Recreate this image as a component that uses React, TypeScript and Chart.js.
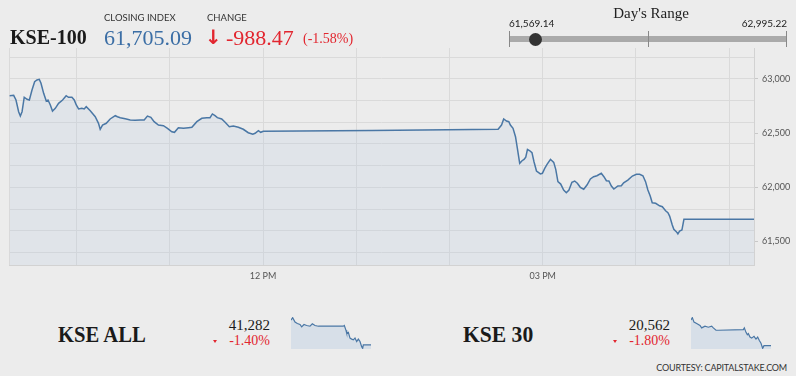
import React, { useEffect, useRef } from 'react';
import { Chart, registerables } from 'chart.js';

Chart.register(...registerables);

// ---------- data ----------
const closingIndex = 61705.09;
const changeValue = -988.47;
const changePct = -1.58;
const dayLow = 61569.14;
const dayHigh = 62995.22;

// minutes since midnight
const kse100Times = [
  556.9, 559.5, 561.0, 562.7, 563.8, 564.9, 566.3, 568.1, 569.6, 571.3,
  573.0, 574.5, 576.0, 577.1, 578.8, 580.5, 581.6, 583.1, 584.5, 586.3,
  588.4, 591.0, 593.3, 594.8, 597.0, 598.5, 599.8, 601.3, 603.4, 604.9,
  606.2, 608.8, 612.0, 614.1, 615.2, 616.7, 619.1, 621.6, 624.9, 626.3,
  628.1, 631.3, 634.5, 637.7, 640.9,
  643.5, 645.6, 647.8, 649.9, 652.7, 655.9, 658.5, 661.3, 663.0, 665.5,
  668.8, 672.0, 674.2, 677.4, 680.6, 683.8, 685.9, 687.4, 689.1, 690.6,
  693.4, 695.6, 698.3, 700.9, 704.1, 707.3, 710.5, 713.4, 714.9, 717.0,
  718.5, 720.2, 790.0, 871.3,
  873.5, 874.9, 876.7, 878.2, 879.2, 880.9, 882.5, 883.7, 885.2, 886.7,
  888.0, 889.1, 890.2, 891.7, 893.1, 894.4, 896.0, 897.4, 898.5, 899.8,
  901.3, 902.8, 905.0, 907.1, 908.4, 909.8, 911.6, 913.5, 915.2, 916.9,
  918.8, 920.6, 922.3, 924.2, 926.4, 928.5, 930.7, 932.8, 934.9, 937.7,
  939.4, 941.0, 942.6, 944.2, 945.8, 948.4, 950.6, 952.1, 954.8, 957.7,
  960.3, 962.4,
  964.5, 966.2, 967.7, 969.2, 970.5, 972.7, 975.2, 977.0, 979.1, 980.6,
  981.7, 983.4, 984.4, 986.0, 987.0, 988.1, 989.6, 990.9, 1036.0,
];

const kse100Values = [
  62844, 62848, 62805, 62697, 62657, 62697, 62830, 62811, 62805, 62897,
  62973, 62989, 62995, 62959, 62866, 62795, 62805, 62759, 62703, 62728,
  62774, 62805, 62844, 62830, 62830, 62805, 62759, 62722, 62728, 62722,
  62743, 62706, 62651, 62590, 62535, 62574, 62590, 62630, 62660, 62651,
  62642, 62632, 62620, 62618, 62620,
  62620, 62657, 62645, 62605, 62574, 62568, 62544, 62512, 62507, 62549,
  62544, 62549, 62553, 62605, 62636, 62642, 62642, 62676, 62660, 62642,
  62630, 62599, 62559, 62565, 62553, 62535, 62503, 62489, 62498, 62522,
  62507, 62517, 62524, 62535,
  62574, 62630, 62611, 62605, 62574, 62544, 62466, 62359, 62221, 62245,
  62258, 62277, 62350, 62337, 62319, 62236, 62150, 62135, 62123, 62129,
  62175, 62212, 62258, 62230, 62166, 62052, 62030, 61975, 61950, 61975,
  62046, 62058, 62037, 62000, 61982, 62021, 62077, 62098, 62107, 62129,
  62098, 62061, 62058, 62012, 61984, 62012, 62015, 62042, 62067, 62104,
  62120, 62120,
  62107, 62052, 61975, 61920, 61858, 61853, 61830, 61821, 61784, 61766,
  61735, 61653, 61613, 61591, 61570, 61597, 61606, 61705, 61705,
];

const xMin = 556.5;
const xMax = 1036;
const yMin = 61284;
const yMax = 63284;
const hourTicks = [600, 660, 720, 780, 840, 900, 960, 1020];
const xTickLabels: Record<number, string> = { 720: '12 PM', 900: '03 PM' };

// sparklines
const kseAllValue = 41282;
const kseAllPct = -1.4;
const kseAllTimes = [556.5, 566.5, 580.5, 594.5, 610.5, 620.5, 634.5, 650.5, 670.5, 684.5, 700.5, 720.5, 870.5, 876.5, 886.5, 890.5, 900.5, 910.5, 920.5, 930.5, 940.5, 950.5, 960.5, 970.5, 980.5, 986.5, 990.5, 1036.5];
const kseAllSeries = [41830, 41882, 41784, 41754, 41732, 41680, 41732, 41710, 41694, 41747, 41710, 41694, 41694, 41710, 41604, 41544, 41560, 41432, 41410, 41394, 41432, 41357, 41410, 41357, 41244, 41207, 41282, 41282];

const kse30Value = 20562;
const kse30Pct = -1.8;
const kse30Times = [556.5, 564.5, 574.5, 590.5, 610.5, 620.5, 640.5, 660.5, 680.5, 690.5, 706.5, 720.5, 870.5, 876.5, 886.5, 894.5, 900.5, 910.5, 920.5, 934.5, 946.5, 956.5, 966.5, 976.5, 986.5, 994.5, 1036.5];
const kse30Series = [20917, 20950, 20888, 20869, 20841, 20808, 20832, 20817, 20832, 20808, 20775, 20775, 20784, 20808, 20746, 20713, 20728, 20680, 20666, 20690, 20652, 20680, 20633, 20595, 20524, 20562, 20562];

// ---------- style ----------
const BG = '#ececec';
const LINE = '#4a77a5';
const RED = '#e2262f';
const SERIF = '"Liberation Serif", serif';
const SANS = 'Lato, "Open Sans", sans-serif';

function fmt(n: number, d = 0) {
  return n.toLocaleString('en-US', { minimumFractionDigits: d, maximumFractionDigits: d });
}

function MainChart() {
  const ref = useRef<HTMLCanvasElement | null>(null);
  useEffect(() => {
    if (!ref.current) return;
    const points = kse100Times.map((t, i) => ({ x: t, y: kse100Values[i] }));
    const yTicks: number[] = [];
    for (let v = Math.ceil(yMin / 100) * 100; v <= yMax; v += 100) yTicks.push(v);
    const chart = new Chart(ref.current, {
      type: 'line',
      data: {
        datasets: [
          {
            data: points,
            borderColor: LINE,
            borderWidth: 1.5,
            backgroundColor: 'rgba(190,205,225,0.26)',
            fill: 'start',
            pointRadius: 0,
            tension: 0,
          },
        ],
      },
      options: {
        animation: false,
        responsive: false,
        maintainAspectRatio: false,
        layout: { padding: { left: 9, top: 48, right: 0, bottom: 0 } },
        plugins: { legend: { display: false }, tooltip: { enabled: false } },
        scales: {
          x: {
            type: 'linear',
            min: xMin,
            max: xMax,
            afterBuildTicks: (axis: any) => {
              axis.ticks = [xMin, ...hourTicks].map((v) => ({ value: v }));
            },
            afterFit: (s: any) => {
              s.height = 35;
            },
            grid: { color: '#dadada', drawTicks: false, lineWidth: 1 },
            border: { display: true, color: '#d2d2d2' },
            ticks: {
              autoSkip: false,
              maxRotation: 0,
              padding: 6,
              color: '#555',
              font: { family: 'Lato', size: 9 },
              callback: (v: any) => xTickLabels[Number(v)] ?? '',
            },
          },
          y: {
            position: 'right',
            min: yMin,
            max: yMax,
            afterBuildTicks: (axis: any) => {
              axis.ticks = yTicks.map((v) => ({ value: v }));
            },
            afterFit: (s: any) => {
              s.width = 42;
            },
            grid: {
              color: (c: any) => (c.tick && c.tick.value % 200 === 0 ? '#dadada' : 'rgba(0,0,0,0)'),
              tickColor: (c: any) => (c.tick && c.tick.value % 500 === 0 ? '#c8c8c8' : 'rgba(0,0,0,0)'),
              tickLength: 4,
              lineWidth: 1,
            },
            border: { display: true, color: '#d2d2d2' },
            ticks: {
              autoSkip: false,
              padding: 4,
              color: '#555',
              font: { family: 'Lato', size: 9 },
              callback: (v: any) => (Number(v) % 500 === 0 ? fmt(Number(v)) : ''),
            },
          },
        },
      },
    });
    return () => chart.destroy();
  }, []);
  return (
    <canvas
      ref={ref}
      width={796}
      height={300}
      style={{ position: 'absolute', left: 0, top: 0, width: 796, height: 300 }}
    />
  );
}

function Spark(props: { times: number[]; values: number[]; min: number; max: number; left: number; top: number }) {
  const ref = useRef<HTMLCanvasElement | null>(null);
  useEffect(() => {
    if (!ref.current) return;
    const pts = props.times.map((t, i) => ({ x: t, y: props.values[i] }));
    const chart = new Chart(ref.current, {
      type: 'line',
      data: {
        datasets: [
          {
            data: pts,
            borderColor: LINE,
            borderWidth: 1.2,
            backgroundColor: '#d7dfe8',
            fill: 'start',
            pointRadius: 0,
            tension: 0,
          },
        ],
      },
      options: {
        animation: false,
        responsive: false,
        maintainAspectRatio: false,
        layout: { padding: 0 },
        plugins: { legend: { display: false }, tooltip: { enabled: false } },
        scales: {
          x: { type: 'linear', min: xMin, max: xMax + 0.5, display: false },
          y: { min: props.min, max: props.max, display: false },
        },
      },
    });
    return () => chart.destroy();
  }, []);
  return (
    <canvas
      ref={ref}
      width={80}
      height={32}
      style={{ position: 'absolute', left: props.left, top: props.top, width: 80, height: 32 }}
    />
  );
}

function T(props: { x: number; top: number; right?: boolean; style?: React.CSSProperties; children: React.ReactNode }) {
  const pos: React.CSSProperties = props.right ? { right: 796 - props.x } : { left: props.x };
  return (
    <div style={{ position: 'absolute', top: props.top, lineHeight: 1, whiteSpace: 'nowrap', ...pos, ...props.style }}>
      {props.children}
    </div>
  );
}

function DownTri(props: { x: number; y: number }) {
  return (
    <div
      style={{
        position: 'absolute',
        left: props.x,
        top: props.y,
        width: 0,
        height: 0,
        borderLeft: '2.5px solid transparent',
        borderRight: '2.5px solid transparent',
        borderTop: `3px solid ${RED}`,
      }}
    />
  );
}

export default function App() {
  useEffect(() => {
    document.body.style.background = BG;
  }, []);
  const barLeft = 509;
  const barRight = 786;
  const knobX = barLeft + ((closingIndex - dayLow) / (dayHigh - dayLow)) * (barRight - barLeft);
  const labelSmall: React.CSSProperties = { font: `9.5px ${SANS}`, color: '#333' };
  return (
    <div style={{ position: 'absolute', left: 0, top: 0, width: 796, height: 376, background: BG, overflow: 'hidden' }}>
      <MainChart />

      {/* header */}
      <T x={10} top={25.5} style={{ font: `bold 20px ${SERIF}`, color: '#1a1a1a' }}>KSE-100</T>
      <T x={104} top={12.3} style={labelSmall}>CLOSING INDEX</T>
      <T x={104} top={25} style={{ font: `22px ${SERIF}`, color: '#3b6ea5' }}>{fmt(closingIndex, 2)}</T>
      <T x={207} top={12.3} style={labelSmall}>CHANGE</T>
      <T x={205} top={25} style={{ font: `bold 20px "DejaVu Sans", sans-serif`, color: RED }}>↓</T>
      <T x={226} top={25} style={{ font: `22px ${SERIF}`, color: RED }}>{fmt(changeValue, 2)}</T>
      <T x={303} top={31.3} style={{ font: `14px ${SERIF}`, color: RED }}>({fmt(changePct, 2)}%)</T>

      {/* day's range */}
      <T x={651} top={5.4} style={{ font: `15px ${SERIF}`, color: '#222', transform: 'translateX(-50%)' }}>Day's Range</T>
      <T x={509} top={17.1} style={{ font: `10px ${SANS}`, color: '#222' }}>{fmt(dayLow, 2)}</T>
      <T x={787} top={17.1} right style={{ font: `10px ${SANS}`, color: '#222' }}>{fmt(dayHigh, 2)}</T>
      <div style={{ position: 'absolute', left: barLeft, top: 36, width: barRight - barLeft, height: 6, background: '#aaaaaa' }} />
      {[barLeft, (barLeft + barRight) / 2, barRight].map((x, i) => (
        <div key={i} style={{ position: 'absolute', left: Math.round(x), top: 31, width: 1, height: 16, background: '#888' }} />
      ))}
      <div
        style={{
          position: 'absolute',
          left: knobX - 6.5,
          top: 32.5,
          width: 13,
          height: 13,
          borderRadius: '50%',
          background: '#333',
        }}
      />

      {/* bottom panels */}
      <T x={58} top={320.6} style={{ font: `bold 24px ${SERIF}`, color: '#1a1a1a', transform: 'scaleX(0.86)', transformOrigin: 'left' }}>KSE ALL</T>
      <T x={270} top={317.4} right style={{ font: `15px ${SERIF}`, color: '#1a1a1a' }}>{fmt(kseAllValue)}</T>
      <DownTri x={213} y={340} />
      <T x={270} top={333.3} right style={{ font: `14px ${SERIF}`, color: RED }}>{fmt(kseAllPct, 2)}%</T>
      <Spark times={kseAllTimes} values={kseAllSeries} min={41192} max={41897} left={291} top={317} />

      <T x={463} top={320.6} style={{ font: `bold 24px ${SERIF}`, color: '#1a1a1a', transform: 'scaleX(0.9)', transformOrigin: 'left' }}>KSE 30</T>
      <T x={670} top={317.4} right style={{ font: `15px ${SERIF}`, color: '#1a1a1a' }}>{fmt(kse30Value)}</T>
      <DownTri x={613} y={340} />
      <T x={670} top={333.3} right style={{ font: `14px ${SERIF}`, color: RED }}>{fmt(kse30Pct, 2)}%</T>
      <Spark times={kse30Times} values={kse30Series} min={20515} max={20959} left={691} top={317} />

      <T x={787} top={362} right style={{ font: `9px ${SANS}`, color: '#333', letterSpacing: '-0.2px' }}>COURTESY: CAPITALSTAKE.COM</T>
    </div>
  );
}
